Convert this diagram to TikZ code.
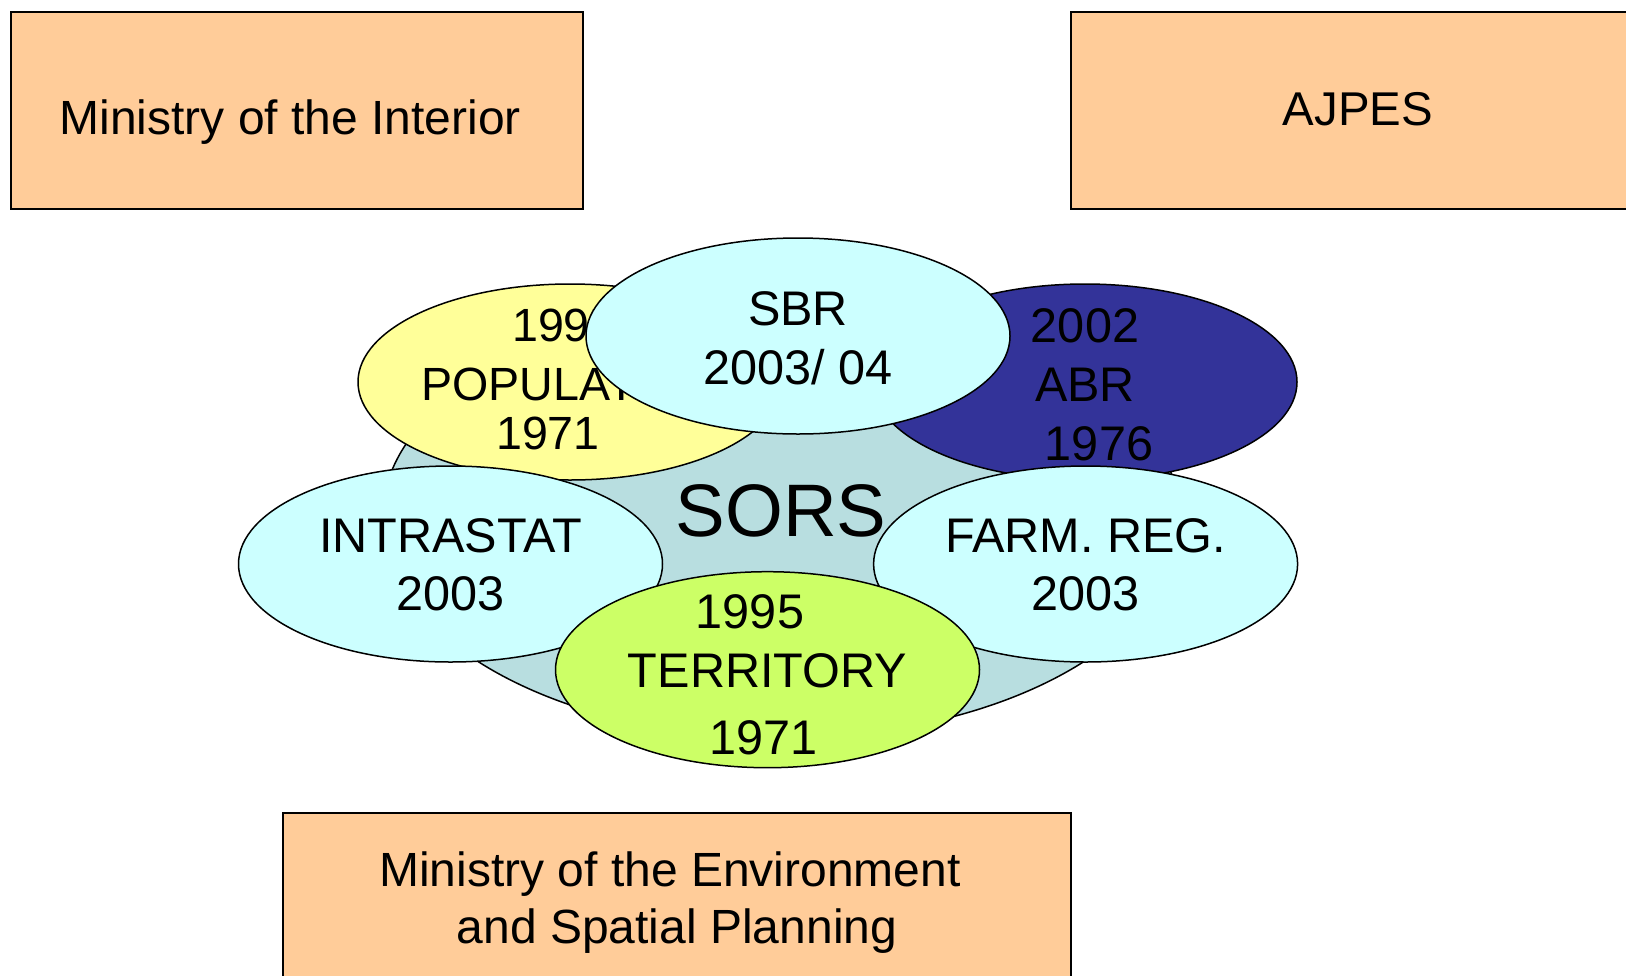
\documentclass[tikz,border=0pt]{standalone}
\usepackage{fontspec}
\setmainfont{Liberation Sans}
\usepackage{tikz}
\usetikzlibrary{shapes}
\definecolor{peach}{HTML}{FFCC99}
\definecolor{sorsblue}{HTML}{B8DEE0}
\definecolor{regcyan}{HTML}{CCFFFF}
\definecolor{popyellow}{HTML}{FFFF99}
\definecolor{abrblue}{HTML}{333399}
\definecolor{terrgreen}{HTML}{CCFF66}

\begin{document}
\begin{tikzpicture}[x=0.5pt,y=-0.5pt,
    reg node/.style={ellipse,draw,line width=0.75pt,inner xsep=0pt,inner ysep=-10pt,text depth=0pt,
      minimum width=212pt,minimum height=98pt,align=center,font=\fontsize{24.3}{29.5}\selectfont},
    inst node/.style={rectangle,draw,line width=1pt,fill=peach,inner sep=0pt,text depth=0pt}]
  \useasboundingbox (0,0) rectangle (1626,975);
  \clip (0,0) rectangle (1626,975);

  \node[inst node,minimum width=285.8pt,minimum height=98.65pt,text height=23.9pt,
        font=\fontsize{24}{29}\selectfont] (interior) at (297.2,110.4) {Ministry of the Interior\hspace*{7pt}};
  \node[inst node,minimum width=287.5pt,minimum height=98.65pt,text height=15.3pt,
        font=\fontsize{23.7}{28}\selectfont] (ajpes) at (1358,110.4) {AJPES};
  \node[inst node,minimum width=394pt,minimum height=84.8pt,align=center,text height=45.5pt,
        font=\fontsize{24}{28.5}\selectfont] (environment) at (677,897.5) {Ministry of the Environment\hspace*{7pt}\\and Spatial Planning};

  \node[reg node,minimum width=399pt,minimum height=219pt,fill=sorsblue,text height=17.7pt,
        font=\fontsize{37.2}{42}\selectfont] (sors) at (781,519) {SORS};
  \node[reg node,fill=popyellow,text height=67.3pt,font=\fontsize{23.3}{29.5}\selectfont]
        (population) at (570,382) {1995\hspace*{6pt}\\POPULATION\hspace*{18pt}\\[-4.85pt]1971\hspace*{22pt}};
  \node[reg node,fill=abrblue,text height=78pt] (abr) at (1085,382) {2002\\ABR\\\hspace*{14pt}1976};
  \node[reg node,fill=regcyan,text height=48pt] (sbr) at (798,336) {SBR\\2003/ 04};
  \node[reg node,fill=regcyan,text height=46pt] (intrastat) at (450.5,564) {INTRASTAT\\[-0.85pt]2003};
  \node[reg node,fill=regcyan,text height=46pt] (farm) at (1085.6,564) {FARM. REG.\\[-0.85pt]2003};
  \node[reg node,fill=terrgreen,text height=84.3pt] (territory) at (767.5,669.7)
        {1995\hspace*{17.5pt}\\TERRITORY\\[3.85pt]1971\hspace*{4pt}};
\end{tikzpicture}
\end{document}
